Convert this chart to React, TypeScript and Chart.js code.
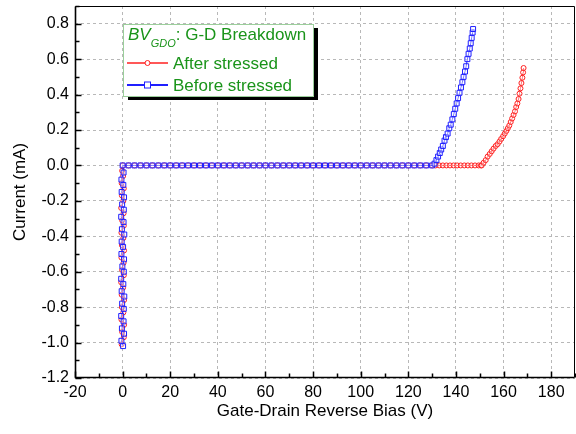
import React, { useEffect, useRef } from "react";
import { Chart, registerables } from "chart.js";

Chart.register(...registerables);

const xTicks = [-20, 0, 20, 40, 60, 80, 100, 120, 140, 160, 180];
const yTicks = [-1.2, -1.0, -0.8, -0.6, -0.4, -0.2, 0.0, 0.2, 0.4, 0.6, 0.8];
const xRange = [-20, 190];
const yRange = [-1.2, 0.9];
const xTitle = "Gate-Drain Reverse Bias (V)";
const yTitle = "Current (mA)";
const legendTitleMain = "BV";
const legendTitleSub = "GDO";
const legendTitleRest = ": G-D Breakdown";
const seriesNames = ["After stressed", "Before stressed"];

// Before stressed (blue squares)
const beforeBias = [
  0.2, -0.5, 0.6, -0.3, 0.4, -0.6, 0.5, -0.2, 0.7, -0.4, 0.3, -0.6, 0.5, -0.1, 0.6,
  -0.5, 0.2, -0.4, 0.7, -0.3, 0.4, -0.6, 0.5, -0.2, 0.6, -0.4, 0.3, -0.5, 0.4, 0.0,
  2.5, 5, 7.5, 10, 12.5, 15, 17.5, 20, 22.5, 25, 27.5, 30, 32.5, 35, 37.5, 40, 42.5, 45,
  47.5, 50, 52.5, 55, 57.5, 60, 62.5, 65, 67.5, 70, 72.5, 75, 77.5, 80, 82.5, 85, 87.5,
  90, 92.5, 95, 97.5, 100, 102.5, 105, 107.5, 110, 112.5, 115, 117.5, 120, 122.5, 125,
  127.5, 130,
  131.0, 131.8, 132.5, 133.2, 133.8, 134.5, 135.2, 135.8, 136.5, 137.2, 137.8, 138.5,
  139.1, 139.7, 140.3, 140.9, 141.5, 142.1, 142.7, 143.2, 143.8, 144.3, 144.8, 145.3,
  145.8, 146.2, 146.6, 147.0, 147.2,
];
const beforeCurrent = [
  -1.02, -0.99, -0.95, -0.92, -0.88, -0.85, -0.81, -0.78, -0.74, -0.71, -0.67, -0.64,
  -0.6, -0.57, -0.53, -0.5, -0.46, -0.43, -0.39, -0.36, -0.32, -0.29, -0.25, -0.22,
  -0.18, -0.15, -0.11, -0.08, -0.04, 0.0,
  0.0, 0.0, 0.0, 0.0, 0.0, 0.0, 0.0, 0.0, 0.0, 0.0, 0.0, 0.0, 0.0, 0.0, 0.0, 0.0, 0.0,
  0.0, 0.0, 0.0, 0.0, 0.0, 0.0, 0.0, 0.0, 0.0, 0.0, 0.0, 0.0, 0.0, 0.0, 0.0, 0.0, 0.0,
  0.0, 0.0, 0.0, 0.0, 0.0, 0.0, 0.0, 0.0, 0.0, 0.0, 0.0, 0.0, 0.0, 0.0, 0.0, 0.0, 0.0,
  0.0,
  0.01, 0.03, 0.05, 0.07, 0.09, 0.11, 0.14, 0.16, 0.18, 0.21, 0.23, 0.26, 0.29, 0.32,
  0.35, 0.38, 0.41, 0.44, 0.47, 0.5, 0.53, 0.56, 0.6, 0.63, 0.66, 0.69, 0.72, 0.75, 0.77,
];

// After stressed (red circles)
const afterBias = [
  -0.4, 0.5, -0.2, 0.6, -0.5, 0.3, -0.3, 0.6, -0.4, 0.2, -0.6, 0.5, -0.2, 0.4, -0.5,
  0.6, -0.3, 0.3, -0.5, 0.5, -0.2, 0.4, -0.6, 0.3, -0.3, 0.5, -0.4, 0.2, -0.2, 0.1,
  2.5, 5, 7.5, 10, 12.5, 15, 17.5, 20, 22.5, 25, 27.5, 30, 32.5, 35, 37.5, 40, 42.5, 45,
  47.5, 50, 52.5, 55, 57.5, 60, 62.5, 65, 67.5, 70, 72.5, 75, 77.5, 80, 82.5, 85, 87.5,
  90, 92.5, 95, 97.5, 100, 102.5, 105, 107.5, 110, 112.5, 115, 117.5, 120, 122.5, 125,
  127.5, 130, 131.5, 133, 134.5, 136, 137.5, 139, 140.5, 142, 143.5, 145, 146.5, 148,
  149.5, 150.5,
  150.8, 151.6, 152.5, 153.3, 154.2, 155.0, 155.8, 156.7, 157.5, 158.3, 159.0, 159.8,
  160.5, 161.2, 161.8, 162.4, 163.0, 163.6, 164.2, 164.8, 165.3, 165.8, 166.3, 166.7,
  167.1, 167.5, 167.9, 168.2, 168.4,
];
const afterCurrent = [
  -1.01, -0.97, -0.94, -0.9, -0.87, -0.83, -0.8, -0.76, -0.73, -0.69, -0.66, -0.62,
  -0.59, -0.55, -0.52, -0.48, -0.45, -0.41, -0.38, -0.34, -0.31, -0.27, -0.24, -0.2,
  -0.17, -0.13, -0.1, -0.06, -0.03, 0.0,
  0.0, 0.0, 0.0, 0.0, 0.0, 0.0, 0.0, 0.0, 0.0, 0.0, 0.0, 0.0, 0.0, 0.0, 0.0, 0.0, 0.0,
  0.0, 0.0, 0.0, 0.0, 0.0, 0.0, 0.0, 0.0, 0.0, 0.0, 0.0, 0.0, 0.0, 0.0, 0.0, 0.0, 0.0,
  0.0, 0.0, 0.0, 0.0, 0.0, 0.0, 0.0, 0.0, 0.0, 0.0, 0.0, 0.0, 0.0, 0.0, 0.0, 0.0, 0.0,
  0.0, 0.0, 0.0, 0.0, 0.0, 0.0, 0.0, 0.0, 0.0, 0.0, 0.0, 0.0, 0.0, 0.0, 0.0, 0.0,
  0.015, 0.03, 0.05, 0.065, 0.08, 0.095, 0.11, 0.12, 0.135, 0.15, 0.165, 0.18, 0.195,
  0.21, 0.225, 0.245, 0.265, 0.285, 0.305, 0.33, 0.35, 0.375, 0.405, 0.435, 0.465,
  0.495, 0.525, 0.55, 0.565,
];

const BLUE = "#1f1fff";
const RED = "#ff2020";
const GREEN = "#1a941a";
const FONT = "'Liberation Sans', Arial, sans-serif";

const framePlugin = {
  id: "frameAndLegend",
  afterDraw(chart: any) {
    const { ctx, chartArea: a, scales } = chart;
    const xs = scales.x;
    const ys = scales.y;
    const L = Math.round(a.left) + 0.5;
    const R = Math.round(a.right) - 0.5;
    const T = Math.round(a.top) + 0.5;
    const B = Math.round(a.bottom) - 0.5;
    ctx.save();
    ctx.strokeStyle = "#000";
    ctx.lineWidth = 1;
    ctx.beginPath();
    ctx.moveTo(L, T);
    ctx.lineTo(R, T);
    ctx.lineTo(R, B);
    ctx.stroke();
    ctx.lineWidth = 1.6;
    ctx.beginPath();
    ctx.moveTo(L, T);
    ctx.lineTo(L, B);
    ctx.lineTo(R, B);
    ctx.stroke();

    // inward tick marks
    ctx.lineWidth = 1.5;
    ctx.beginPath();
    const xStep = xTicks[1] - xTicks[0];
    for (let v = xRange[0]; v <= xRange[1] + 1e-9; v += xStep / 2) {
      const px = Math.round(xs.getPixelForValue(v)) + 0.5;
      const isMajor = xTicks.some((t) => Math.abs(t - v) < 1e-6);
      const len = isMajor ? 6 : 4;
      ctx.moveTo(px, B);
      ctx.lineTo(px, B - len);
    }
    const yStep = yTicks[1] - yTicks[0];
    for (let k = 0; yRange[0] + (k * yStep) / 2 <= yRange[1] + 1e-9; k++) {
      const v = yRange[0] + (k * yStep) / 2;
      const py = Math.round(ys.getPixelForValue(v)) + 0.5;
      const isMajor = yTicks.some((t) => Math.abs(t - v) < 1e-6);
      const len = isMajor ? 6 : 4;
      ctx.moveTo(L, py);
      ctx.lineTo(L + len, py);
    }
    ctx.stroke();

    // legend box
    const lx = a.left + 48;
    const ly = a.top + 18;
    const lw = 190;
    const lh = 72;
    ctx.fillStyle = "#000";
    ctx.fillRect(lx + 5, ly + 4, lw, lh);
    ctx.fillStyle = "#fff";
    ctx.fillRect(lx, ly, lw, lh);
    ctx.strokeStyle = "#9ccf9c";
    ctx.lineWidth = 1;
    ctx.strokeRect(Math.round(lx) + 0.5, Math.round(ly) + 0.5, lw, lh);

    ctx.fillStyle = GREEN;
    ctx.textBaseline = "alphabetic";
    ctx.textAlign = "left";
    let tx = lx + 5;
    const tb = ly + 16;
    ctx.font = `italic 17px ${FONT}`;
    ctx.fillText(legendTitleMain, tx, tb);
    tx += ctx.measureText(legendTitleMain).width;
    ctx.font = `italic 11px ${FONT}`;
    ctx.fillText(legendTitleSub, tx, tb + 7);
    tx += ctx.measureText(legendTitleSub).width;
    ctx.font = `17px ${FONT}`;
    ctx.fillText(legendTitleRest, tx, tb);

    const entries = [
      { name: seriesNames[0], color: RED, style: "circle", y: ly + 39 },
      { name: seriesNames[1], color: BLUE, style: "rect", y: ly + 61 },
    ];
    for (const e of entries) {
      ctx.strokeStyle = e.color;
      ctx.lineWidth = e.style === "rect" ? 2 : 1.5;
      ctx.beginPath();
      ctx.moveTo(lx + 4, e.y);
      ctx.lineTo(lx + 45, e.y);
      ctx.stroke();
      ctx.fillStyle = "#fff";
      ctx.lineWidth = 1;
      const cx = lx + 24.5;
      if (e.style === "circle") {
        ctx.beginPath();
        ctx.arc(cx, e.y, 2.5, 0, Math.PI * 2);
        ctx.fill();
        ctx.stroke();
      } else {
        ctx.fillRect(cx - 3, e.y - 3, 6, 6);
        ctx.strokeRect(cx - 3, e.y - 3, 6, 6);
      }
      ctx.fillStyle = GREEN;
      ctx.font = `17px ${FONT}`;
      ctx.fillText(e.name, lx + 50, e.y + 6);
    }
    ctx.restore();
  },
};

export default function App() {
  const ref = useRef<HTMLCanvasElement | null>(null);
  useEffect(() => {
    document.body.style.margin = "0";
    if (!ref.current) return;
    Chart.defaults.font.family = FONT;
    const before = beforeBias.map((x, i) => ({ x, y: beforeCurrent[i] }));
    const after = afterBias.map((x, i) => ({ x, y: afterCurrent[i] }));
    const chart = new Chart(ref.current, {
      type: "scatter",
      data: {
        datasets: [
          {
            label: seriesNames[1],
            data: before,
            showLine: true,
            borderColor: BLUE,
            borderWidth: 1,
            backgroundColor: "rgba(255,255,255,0.4)",
            pointStyle: "rect",
            pointRadius: 3.5,
            pointBorderWidth: 1,
            pointBorderColor: BLUE,
          },
          {
            label: seriesNames[0],
            data: after,
            showLine: true,
            borderColor: RED,
            borderWidth: 1,
            backgroundColor: "rgba(255,255,255,0.4)",
            pointStyle: "circle",
            pointRadius: 2.5,
            pointBorderWidth: 1,
            pointBorderColor: RED,
          },
        ],
      },
      options: {
        responsive: false,
        animation: false,
        layout: { autoPadding: false, padding: { top: 6, right: 1, left: 0, bottom: 0 } },
        plugins: { legend: { display: false }, tooltip: { enabled: false } },
        scales: {
          x: {
            type: "linear",
            min: xRange[0],
            max: xRange[1],
            afterBuildTicks: (s: any) => {
              s.ticks = xTicks.map((v) => ({ value: v }));
            },
            afterFit: (s: any) => {
              s.height = 56;
              s.paddingLeft = 0;
              s.paddingRight = 0;
            },
            grid: { color: "#b8b8b8", drawTicks: false, lineWidth: 1 },
            border: { display: false, dash: [3, 3] },
            ticks: {
              color: "#000",
              font: { size: 16 },
              padding: 5,
              maxRotation: 0,
              callback: (v: any) => String(v),
            },
            title: {
              display: true,
              text: xTitle,
              color: "#000",
              font: { size: 17 },
              padding: { top: 0, bottom: 12 },
            },
          },
          y: {
            type: "linear",
            min: yRange[0],
            max: yRange[1],
            afterBuildTicks: (s: any) => {
              s.ticks = yTicks.map((v) => ({ value: v }));
            },
            afterFit: (s: any) => {
              s.width = 75;
              s.paddingTop = 0;
              s.paddingBottom = 0;
            },
            grid: { color: "#b8b8b8", drawTicks: false, lineWidth: 1 },
            border: { display: false, dash: [3, 3] },
            ticks: {
              color: "#000",
              font: { size: 16 },
              padding: 6,
              callback: (v: any) => Number(v).toFixed(1),
            },
            title: {
              display: true,
              text: yTitle,
              color: "#000",
              font: { size: 17 },
              padding: { top: 10, bottom: 0 },
            },
          },
        },
      },
      plugins: [framePlugin],
    });
    return () => chart.destroy();
  }, []);
  return (
    <div style={{ width: 576, height: 434 }}>
      <canvas ref={ref} width={576} height={434} style={{ display: "block" }} />
    </div>
  );
}
